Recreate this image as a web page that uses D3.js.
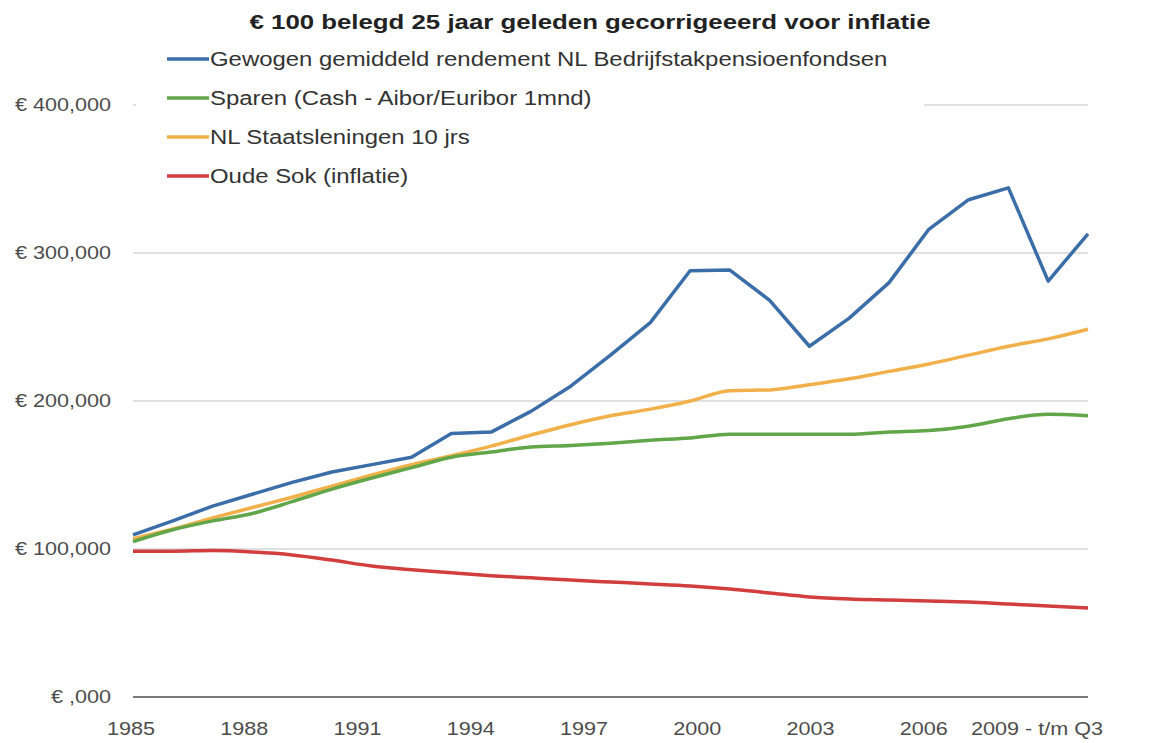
<!doctype html>
<html lang="nl">
<head>
    <meta charset="UTF-8">
    <title>€ 100 belegd 25 jaar geleden</title>
    <script type="text/javascript" src="https://cdn.jsdelivr.net/npm/d3@7"></script>
    <style type="text/css">
        body { margin: 0; background: #fff; }
        svg { font-family: "Liberation Sans", Arial, sans-serif; }
    </style>
</head>
<body>
<script type="text/javascript">
    var width = 1160;
    var height = 743;

    var years = ["1985", "1986", "1987", "1988", "1989", "1990", "1991", "1992", "1993", "1994",
        "1995", "1996", "1997", "1998", "1999", "2000", "2001", "2002", "2003", "2004",
        "2005", "2006", "2007", "2008", "2009 - t/m Q3"];
    var tick_years = ["1985", "1988", "1991", "1994", "1997", "2000", "2003", "2006", "2009 - t/m Q3"];

    var pensioen = [109500, 119000, 129000, 137000, 145000, 152000, 157000, 162000, 178000, 179000,
        193000, 210000, 231000, 253000, 288000, 288500, 268000, 237000, 256000, 280000,
        316000, 336000, 344000, 281000, 313000];
    var sparen = [105000, 113000, 119000, 124000, 132000, 140500, 148000, 155000, 162000, 165500,
        169000, 170000, 171500, 173500, 175000, 177500, 177500, 177500, 177500, 179000,
        180000, 183000, 188000, 191000, 190000];
    var staat = [107000, 113500, 121000, 128000, 135000, 142500, 150000, 157000, 163000, 169500,
        177000, 184000, 190000, 194500, 200000, 207000, 207500, 211000, 215000, 220000,
        225000, 231000, 237000, 242000, 248500];
    var sok = [98500, 98500, 99000, 98000, 96000, 92500, 88500, 86000, 84000, 82000,
        80500, 79000, 77700, 76400, 75000, 73000, 70300, 67600, 66200, 65500,
        64900, 64200, 62800, 61500, 60100];

    var y_ticks = [0, 100000, 200000, 300000, 400000];
    var series_names = ["Gewogen gemiddeld rendement NL Bedrijfstakpensioenfondsen",
        "Sparen (Cash - Aibor/Euribor 1mnd)",
        "NL Staatsleningen 10 jrs",
        "Oude Sok (inflatie)"];
    var series_colors = ["#3b6ea8", "#62a64a", "#f2b04a", "#d23e3e"];
    var series_values = [pensioen, sparen, staat, sok];

    var x_scale = d3.scalePoint().domain(years).range([133, 1088]);
    // the app spreads the tick labels evenly, not on the data points
    var label_scale = d3.scalePoint().domain(tick_years).range([131, 1037]);
    var y_scale = d3.scaleLinear().domain([0, 400000]).range([697, 105]);

    var svg = d3.select("body").append("svg").attr("width", width).attr("height", height);

    // gridlines
    svg.append("g").selectAll("line")
        .data(y_ticks)
        .enter()
        .append("line")
        .attr("x1", 133).attr("x2", 1088)
        .attr("y1", function (d) { return y_scale(d); })
        .attr("y2", function (d) { return y_scale(d); })
        .attr("stroke", function (d) { return d === 0 ? "#7a7a7a" : "#d6d6d6"; })
        .attr("stroke-width", function (d) { return d === 0 ? 2 : 1.5; });

    // y labels (text in the source is stretched wide)
    var fmt = function (d) {
        return d === 0 ? "€ ,000" : "€ " + d3.format(",")(d);
    };
    svg.append("g").selectAll("text")
        .data(y_ticks)
        .enter()
        .append("text")
        .attr("transform", function (d) { return "translate(111," + y_scale(d) + ") scale(1.2,1)"; })
        .attr("dy", "0.35em")
        .attr("text-anchor", "end")
        .attr("font-size", "18px")
        .attr("fill", "#4d4d4d")
        .text(fmt);

    // x labels
    svg.append("g").selectAll("text")
        .data(tick_years)
        .enter()
        .append("text")
        .attr("transform", function (d) { return "translate(" + label_scale(d) + ",735) scale(1.2,1)"; })
        .attr("text-anchor", "middle")
        .attr("font-size", "18px")
        .attr("fill", "#4d4d4d")
        .text(function (d) { return d; });

    // legend background hides the top gridline
    svg.append("rect")
        .attr("x", 136).attr("y", 40).attr("width", 788).attr("height", 150)
        .attr("fill", "#fff");

    // lines
    for (var s = series_values.length - 1; s >= 0; s--) {
        var line = d3.line()
            .x(function (d, i) { return x_scale(years[i]); })
            .y(function (d) { return y_scale(d); })
            .curve(s === 0 ? d3.curveLinear : d3.curveMonotoneX);
        svg.append("path")
            .datum(series_values[s])
            .attr("d", line)
            .attr("fill", "none")
            .attr("stroke", series_colors[s])
            .attr("stroke-width", 3.5)
            .attr("stroke-linejoin", "round");
    }

    // legend
    var legend = svg.append("g").selectAll("g")
        .data(series_names)
        .enter()
        .append("g")
        .attr("transform", function (d, i) { return "translate(0," + (59 + i * 39) + ")"; });
    legend.append("line")
        .attr("x1", 167).attr("x2", 209)
        .attr("stroke", function (d, i) { return series_colors[i]; })
        .attr("stroke-width", 3.5);
    legend.append("text")
        .attr("transform", "translate(210,0) scale(1.14,1)")
        .attr("dy", "0.35em")
        .attr("font-size", "21px")
        .attr("fill", "#333")
        .text(function (d) { return d; });

    // title
    svg.append("text")
        .attr("transform", "translate(590,29) scale(1.29,1)")
        .attr("text-anchor", "middle")
        .attr("font-size", "20px")
        .attr("font-weight", "bold")
        .attr("fill", "#222")
        .text("€ 100 belegd 25 jaar geleden gecorrigeeerd voor inflatie");
</script>
</body>
</html>
